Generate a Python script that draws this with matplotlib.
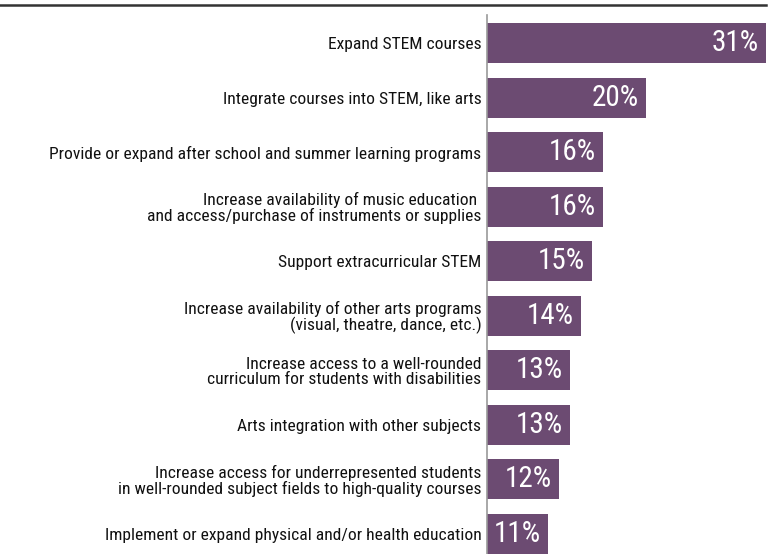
import matplotlib
matplotlib.use("Agg")
import matplotlib.pyplot as plt
from matplotlib.lines import Line2D

labels = [
    "Expand STEM courses",
    "Integrate courses into STEM, like arts",
    "Provide or expand after school and summer learning programs",
    "Increase availability of music education \nand access/purchase of instruments or supplies",
    "Support extracurricular STEM",
    "Increase availability of other arts programs\n(visual, theatre, dance, etc.)",
    "Increase access to a well-rounded\ncurriculum for students with disabilities",
    "Arts integration with other subjects",
    "Increase access for underrepresented students\nin well-rounded subject fields to high-quality courses",
    "Implement or expand physical and/or health education",
]
values = [31, 20, 16, 16, 15, 14, 13, 13, 12, 11]

bar_color = "#6c4b72"
plt.rcParams["font.family"] = ["Roboto Condensed", "Liberation Sans Narrow", "Roboto", "DejaVu Sans"]

fig = plt.figure(figsize=(7.72, 5.54), dpi=100)
ax = fig.add_axes([487 / 772, 0, (766 - 487) / 772, (554 - 15) / 554])

y = list(range(len(values)))
ax.barh(y, values, height=0.733, color=bar_color)
ax.set_xlim(5.4, 31)
ax.set_ylim(9 + 0.37, -0.513)

for yi, v in zip(y, values):
    ax.annotate(f"{v}%", (v, yi), xytext=(-5, 0), textcoords="offset points",
                ha="right", va="center", color="white", fontsize=21)

ax.set_yticks(y)
ax.set_yticklabels(labels, fontsize=12.6, linespacing=1.0, color="#111111")
ax.tick_params(axis="y", length=0, pad=4)
ax.set_xticks([])
for s in ["top", "right", "bottom"]:
    ax.spines[s].set_visible(False)
ax.spines["left"].set_color("#999999")
ax.spines["left"].set_linewidth(1.2)

fig.add_artist(Line2D([0, 766 / 772], [1 - 5 / 554, 1 - 5 / 554],
                      transform=fig.transFigure, color="#333333", linewidth=1.8))

fig.savefig("out.png", dpi=100)
